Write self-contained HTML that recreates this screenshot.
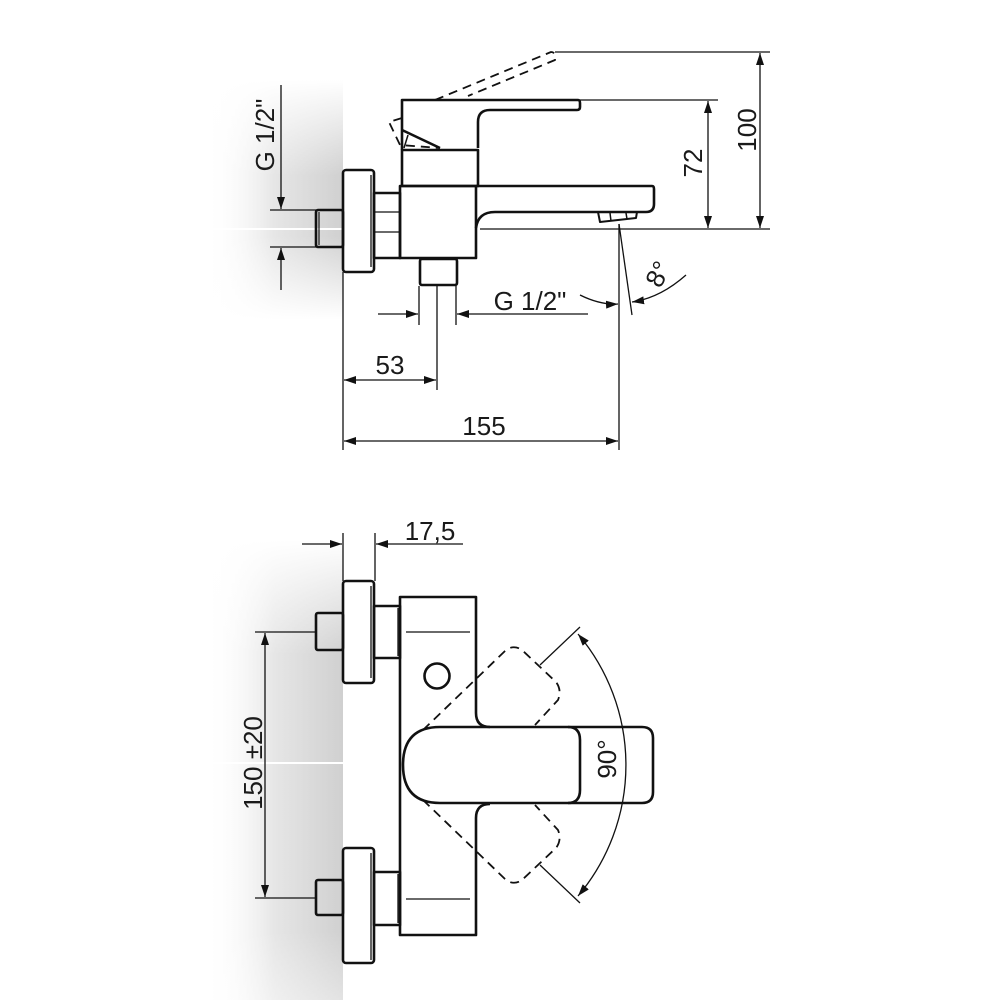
<!DOCTYPE html>
<html><head><meta charset="utf-8"><style>
html,body{margin:0;padding:0;background:#fff}
svg{display:block}
text{font-family:"Liberation Sans","DejaVu Sans",sans-serif;fill:#1a1a1a}
</style></head><body>
<svg width="1000" height="1000" viewBox="0 0 1000 1000" xmlns="http://www.w3.org/2000/svg">
<defs>
<linearGradient id="gh" x1="0" x2="1" y1="0" y2="0">
<stop offset="0" stop-color="#fff" stop-opacity="0"/>
<stop offset="0.5" stop-color="#e6e6e6"/>
<stop offset="1" stop-color="#d0d0d0"/>
</linearGradient>
<linearGradient id="gv1" x1="0" x2="0" y1="0" y2="1">
<stop offset="0" stop-color="#fff"/>
<stop offset="0.4" stop-color="#fff" stop-opacity="0"/>
<stop offset="0.65" stop-color="#fff" stop-opacity="0"/>
<stop offset="1" stop-color="#fff"/>
</linearGradient>
<linearGradient id="gv2" x1="0" x2="0" y1="0" y2="1">
<stop offset="0" stop-color="#fff"/>
<stop offset="0.25" stop-color="#fff" stop-opacity="0"/>
<stop offset="0.85" stop-color="#fff" stop-opacity="0"/>
<stop offset="1" stop-color="#fff" stop-opacity="0.4"/>
</linearGradient>
<marker id="a" viewBox="0 0 12 8" refX="12" refY="4" markerWidth="12" markerHeight="8" markerUnits="userSpaceOnUse" orient="auto-start-reverse">
<path d="M0,0 L12,4 L0,8 z" fill="#111"/>
</marker>
</defs>
<rect x="205" y="80" width="138" height="240" fill="url(#gh)"/>
<rect x="205" y="80" width="138" height="240" fill="url(#gv1)"/>
<rect x="205" y="540" width="138" height="460" fill="url(#gh)"/>
<rect x="205" y="540" width="138" height="460" fill="url(#gv2)"/>
<line x1="205" y1="229" x2="343" y2="229" stroke="#fff" stroke-width="2"/>
<line x1="205" y1="763" x2="343" y2="763" stroke="#fff" stroke-width="2"/>

<g fill="none" stroke="#111" stroke-width="2.6" stroke-linejoin="round">
<rect x="343" y="170" width="31" height="102" rx="3"/>
<line x1="371" y1="175" x2="371" y2="267" stroke-width="1.3"/>
<rect x="316" y="210" width="27" height="37" rx="2"/>
<line x1="319" y1="212" x2="319" y2="245" stroke-width="1.2"/>
<rect x="374" y="193" width="26" height="65"/>
<line x1="374" y1="212" x2="400" y2="212" stroke-width="1.3"/>
<line x1="374" y1="232" x2="400" y2="232" stroke-width="1.3"/>
<rect x="400" y="186" width="76" height="72"/>
<path d="M476,186 H652 Q654,186 654,189 V204 Q654,212 646,212 H495 Q478,212 476,228"/>
<path d="M598,212 L600,222 L636,218 L637,212" stroke-width="2"/>
<line x1="610" y1="213" x2="611" y2="221" stroke-width="1.5"/>
<line x1="626" y1="213" x2="627" y2="219" stroke-width="1.5"/>
<rect x="402" y="150" width="76" height="36"/>
<path d="M402,150 V100 H578 Q580,100 580,103 V107 Q580,110 577,110 H490 Q478,110 478,122 V148"/>
<path d="M402,130 L440,148"/>
<path d="M408,135 L404,148" stroke-width="1.5"/>
<rect x="420" y="259" width="37" height="26" rx="2"/>
<g stroke-dasharray="9,6" stroke-width="1.8">
<path d="M435,100 L551,52 Q556,52 555,60 L468,96"/>
<path d="M402,118 L389,122 L400,145 L440,148"/>
</g>
<rect x="343" y="581" width="31" height="102" rx="3"/>
<line x1="371" y1="586" x2="371" y2="678" stroke-width="1.3"/>
<rect x="316" y="613" width="27" height="37" rx="2"/>
<rect x="374" y="606" width="26" height="52"/>
<line x1="398" y1="608" x2="398" y2="656" stroke-width="1.3"/>
<rect x="343" y="848" width="31" height="115" rx="3"/>
<line x1="371" y1="853" x2="371" y2="960" stroke-width="1.3"/>
<rect x="316" y="880" width="27" height="35" rx="2"/>
<rect x="374" y="872" width="26" height="53"/>
<line x1="398" y1="874" x2="398" y2="923" stroke-width="1.3"/>
<path d="M490,727 Q476,727 476,713 V597 H400 V935 H476 V818 Q476,804 490,804"/>
<line x1="406" y1="632" x2="470" y2="632" stroke-width="1.3"/>
<line x1="406" y1="899" x2="470" y2="899" stroke-width="1.3"/>
<circle cx="437" cy="676" r="12.5"/>
<path d="M440,727 H642 Q653,727 653,738 V792 Q653,803 642,803 H440 Q403,803 403,765 Q403,727 440,727 Z"/>
<path d="M568,727 Q580,727 580,740 V790 Q580,803 568,803"/>
<g stroke-dasharray="9,6" stroke-width="1.8">
<path d="M423,730 L505,651 Q513,644 522,650 L556,682 Q562,690 558,700 L535,725"/>
<path d="M423,800 L505,879 Q513,886 522,880 L556,848 Q562,840 558,830 L535,805"/>
</g>
</g>

<g fill="none" stroke="#111" stroke-width="1.3">
<line x1="555" y1="52" x2="770" y2="52"/>
<line x1="580" y1="100" x2="718" y2="100"/>
<line x1="480" y1="229" x2="770" y2="229"/>
<line x1="760" y1="53" x2="760" y2="228" marker-start="url(#a)" marker-end="url(#a)"/>
<line x1="708" y1="101" x2="708" y2="228" marker-start="url(#a)" marker-end="url(#a)"/>
<line x1="270" y1="210" x2="316" y2="210"/>
<line x1="270" y1="247" x2="316" y2="247"/>
<line x1="281" y1="85" x2="281" y2="209" marker-end="url(#a)"/>
<line x1="281" y1="290" x2="281" y2="248" marker-end="url(#a)"/>
<line x1="419" y1="286" x2="419" y2="325"/>
<line x1="456" y1="286" x2="456" y2="325"/>
<line x1="378" y1="314" x2="418" y2="314" marker-end="url(#a)"/>
<line x1="588" y1="314" x2="457" y2="314" marker-end="url(#a)"/>
<line x1="619" y1="224" x2="619" y2="450"/>
<line x1="619" y1="224" x2="632" y2="315"/>
<path d="M580,295 Q600,305 618,304" marker-end="url(#a)"/>
<path d="M686,275 Q660,298 632,302" marker-end="url(#a)"/>
<line x1="343" y1="272" x2="343" y2="450"/>
<line x1="437" y1="285" x2="437" y2="390"/>
<line x1="344" y1="380" x2="436" y2="380" marker-start="url(#a)" marker-end="url(#a)"/>
<line x1="344" y1="441" x2="618" y2="441" marker-start="url(#a)" marker-end="url(#a)"/>
<line x1="343" y1="533" x2="343" y2="581"/>
<line x1="375" y1="533" x2="375" y2="581"/>
<line x1="302" y1="544" x2="342" y2="544" marker-end="url(#a)"/>
<line x1="463" y1="544" x2="376" y2="544" marker-end="url(#a)"/>
<line x1="255" y1="632" x2="316" y2="632"/>
<line x1="255" y1="898" x2="316" y2="898"/>
<line x1="265" y1="633" x2="265" y2="897" marker-start="url(#a)" marker-end="url(#a)"/>
<line x1="540" y1="665" x2="580" y2="627"/>
<line x1="540" y1="865" x2="580" y2="903"/>
<path d="M578,634 A203,203 0 0 1 578,896" marker-start="url(#a)" marker-end="url(#a)"/>
</g>

<g font-size="26">
<text x="747" y="130" text-anchor="middle" transform="rotate(-90 747 130)" dy="9">100</text>
<text x="693" y="163" text-anchor="middle" transform="rotate(-90 693 163)" dy="9">72</text>
<text x="265" y="135" text-anchor="middle" transform="rotate(-90 265 135)" dy="9">G 1/2"</text>
<text x="530" y="310" text-anchor="middle">G 1/2"</text>
<text x="658" y="274" text-anchor="middle" transform="rotate(-62 658 274)" dy="9">8°</text>
<text x="390" y="374" text-anchor="middle">53</text>
<text x="484" y="435" text-anchor="middle">155</text>
<text x="430" y="540" text-anchor="middle">17,5</text>
<text x="253" y="763" text-anchor="middle" transform="rotate(-90 253 763)" dy="9">150 ±20</text>
<text x="607" y="759" text-anchor="middle" transform="rotate(-90 607 759)" dy="9">90°</text>
</g>
</svg>
</body></html>
